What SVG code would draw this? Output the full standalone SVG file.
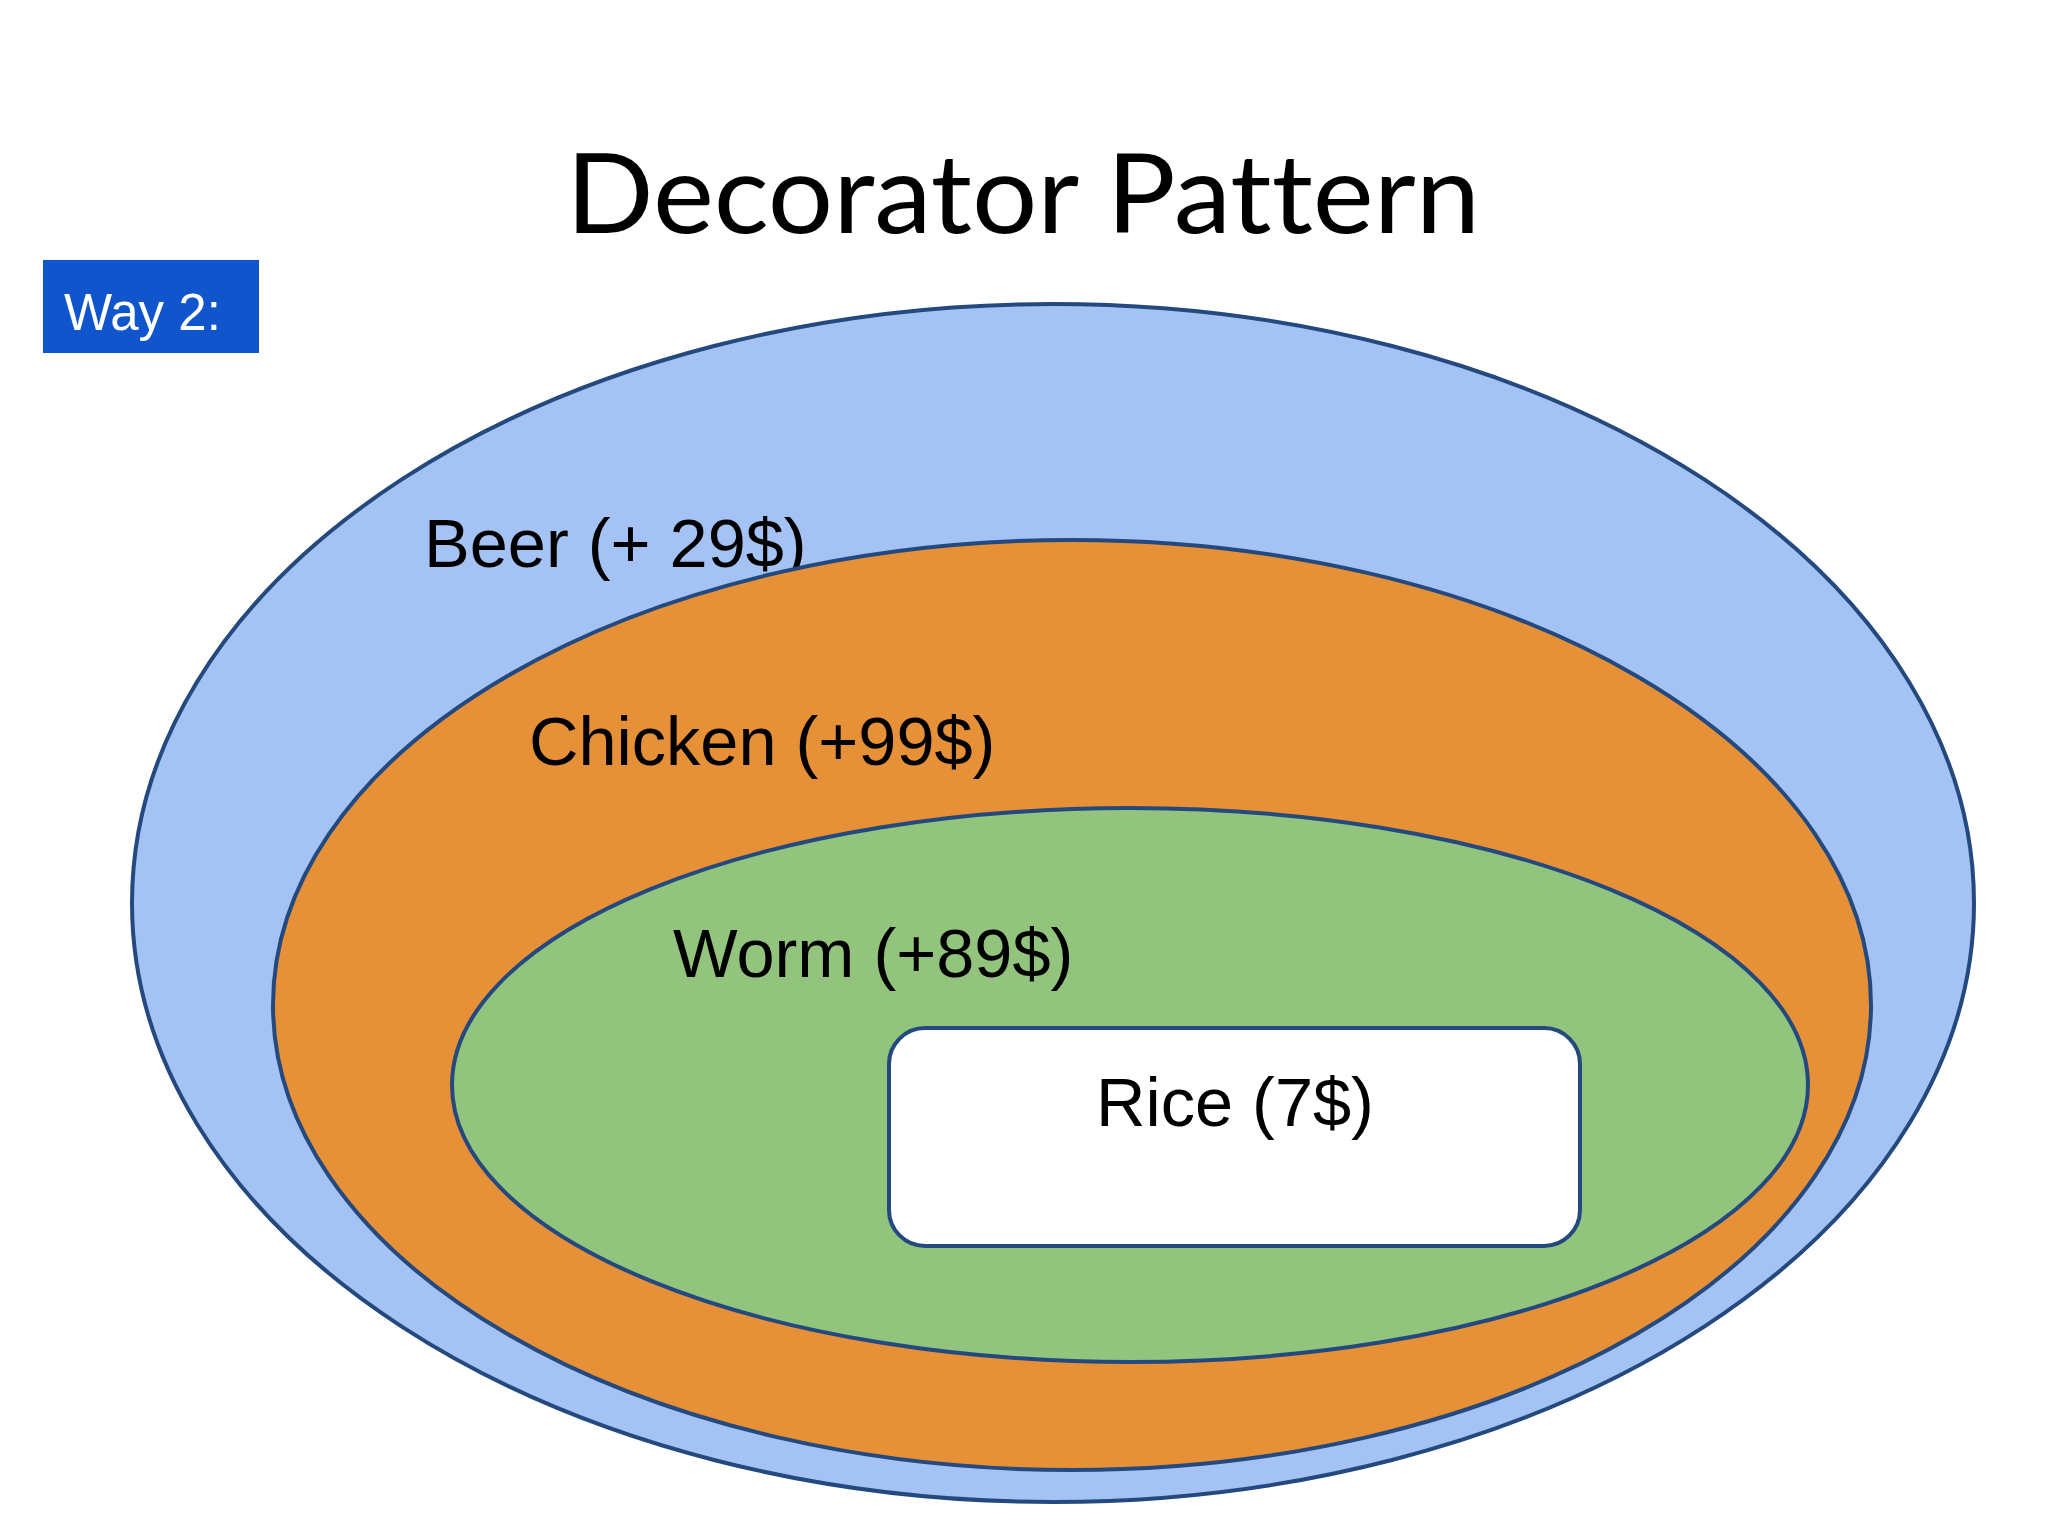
<svg xmlns="http://www.w3.org/2000/svg" width="2048" height="1536" viewBox="0 0 2048 1536">
<style>
.shape{stroke:#24497E;stroke-width:4}
.lbl{font-family:"Liberation Sans",Arial,sans-serif;font-size:68.5px;fill:#000}
</style>
<rect x="0" y="0" width="2048" height="1536" fill="#FFFFFF"/>
<text x="566" y="233" font-family="Lato,'Open Sans',sans-serif" font-size="110" textLength="914" lengthAdjust="spacingAndGlyphs" style="font-variant-ligatures:none" fill="#000">Decorator Pattern</text>
<g id="way2">
<rect x="43" y="260" width="216" height="93" fill="#1155CC"/>
<text x="64" y="330" font-family="'Liberation Sans',Arial,sans-serif" font-size="51" fill="#FFFFFF">Way 2:</text>
</g>
<g id="beer">
<ellipse class="shape" cx="1053" cy="903" rx="921" ry="599" fill="#A4C2F4"/>
<text class="lbl" x="424" y="567">Beer (+ 29$)</text>
</g>
<g id="chicken">
<ellipse class="shape" cx="1072" cy="1005" rx="799" ry="465" fill="#E69138"/>
<text class="lbl" x="529" y="765">Chicken (+99$)</text>
</g>
<g id="worm">
<ellipse class="shape" cx="1130" cy="1085" rx="678" ry="277" fill="#93C47D"/>
<text class="lbl" x="673" y="977">Worm (+89$)</text>
</g>
<g id="rice">
<rect class="shape" x="889" y="1028" width="691" height="218" rx="36" ry="36" fill="#FFFFFF"/>
<text class="lbl" x="1235" y="1126" text-anchor="middle">Rice (7$)</text>
</g>
<g id="connectors"></g>
</svg>
